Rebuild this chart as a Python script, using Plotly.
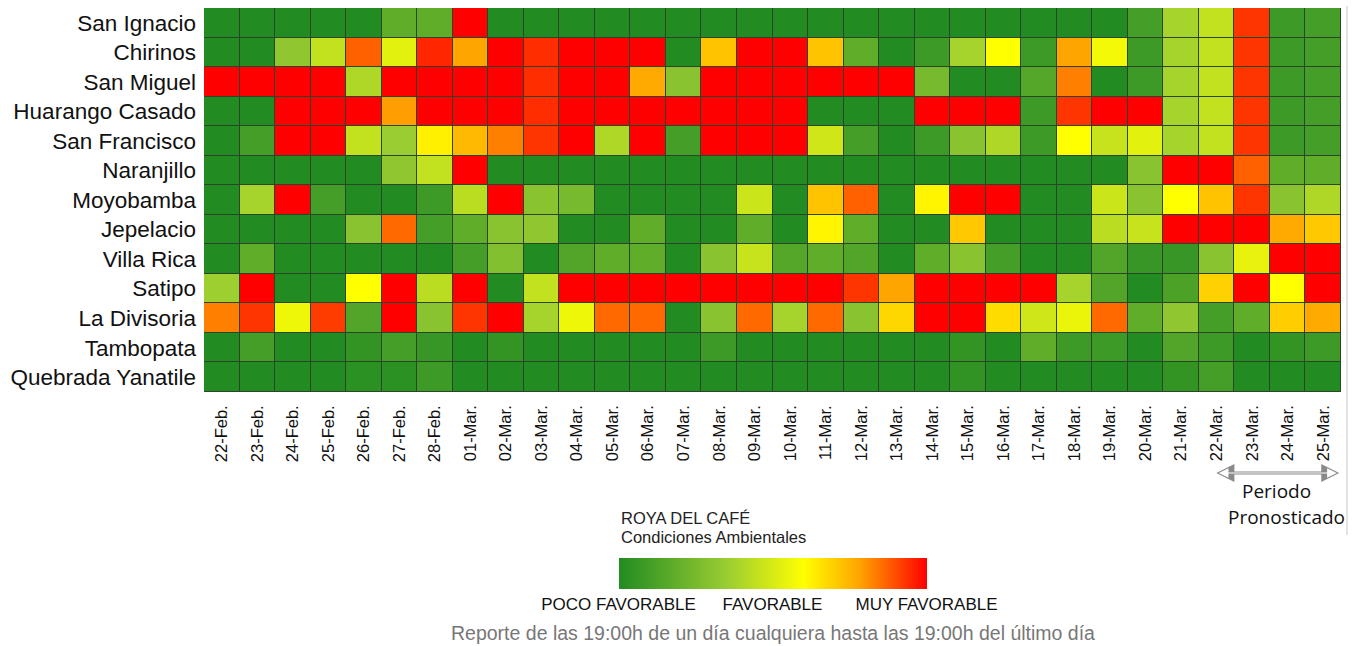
import plotly.graph_objects as go

stations = ["San Ignacio", "Chirinos", "San Miguel", "Huarango Casado", "San Francisco",
            "Naranjillo", "Moyobamba", "Jepelacio", "Villa Rica", "Satipo",
            "La Divisoria", "Tambopata", "Quebrada Yanatile"]

dates = ["22-Feb.", "23-Feb.", "24-Feb.", "25-Feb.", "26-Feb.", "27-Feb.", "28-Feb.",
         "01-Mar.", "02-Mar.", "03-Mar.", "04-Mar.", "05-Mar.", "06-Mar.", "07-Mar.",
         "08-Mar.", "09-Mar.", "10-Mar.", "11-Mar.", "12-Mar.", "13-Mar.", "14-Mar.",
         "15-Mar.", "16-Mar.", "17-Mar.", "18-Mar.", "19-Mar.", "20-Mar.", "21-Mar.",
         "22-Mar.", "23-Mar.", "24-Mar.", "25-Mar."]

san_ignacio = [0,0,0,0,0,18,18,100,0,0,0,0,0,0,0,0,0,0,0,0,0,0,0,0,0,0,10,38,45,93,8,10]
chirinos = [0,0,32,45,87,53,95,78,100,94,100,100,100,0,72,100,100,72,18,0,8,38,60,8,78,57,8,38,45,93,8,10]
san_miguel = [100,100,100,100,40,100,100,100,100,94,100,100,77,30,100,100,100,100,100,100,25,0,0,15,83,0,8,38,45,93,8,10]
huarango_casado = [0,0,100,100,100,79,100,100,100,94,100,100,100,100,100,100,100,0,0,0,100,100,100,8,93,100,100,38,45,93,8,10]
san_francisco = [0,10,100,100,45,35,63,74,83,93,100,40,100,10,100,100,100,48,10,0,8,30,40,8,60,46,53,38,45,93,8,10]
naranjillo = [0,0,0,0,0,32,45,100,0,0,0,0,0,0,0,0,0,0,0,0,0,0,0,0,0,0,30,100,100,87,18,18]
moyobamba = [0,38,100,10,0,0,8,43,100,30,25,0,0,0,0,47,0,72,87,0,62,100,100,0,0,47,30,60,72,93,30,40]
jepelacio = [0,0,0,0,30,86,10,18,30,32,0,0,18,0,0,18,0,62,18,0,0,71,0,0,0,43,46,100,100,100,77,71]
villa_rica = [0,18,0,0,0,0,0,10,28,0,14,18,18,0,30,46,15,18,14,0,18,30,10,0,0,14,6,6,30,54,100,100]
satipo = [36,100,0,0,60,100,43,100,0,45,100,100,100,100,100,100,100,100,93,78,100,100,100,100,38,14,0,12,69,100,60,100]
la_divisoria = [83,93,56,92,14,100,30,93,100,38,56,86,86,0,30,86,38,86,30,68,100,100,67,48,55,86,18,32,10,18,70,77]
tambopata = [0,10,0,0,5,10,6,0,5,0,0,0,0,0,8,0,0,0,0,0,0,5,0,18,8,8,0,14,8,0,5,8]
quebrada_yanatile = [0,0,0,0,3,3,8,0,0,0,0,0,0,0,0,0,0,0,0,0,0,4,0,0,0,0,0,5,10,0,0,0]

z = [san_ignacio, chirinos, san_miguel, huarango_casado, san_francisco, naranjillo,
     moyobamba, jepelacio, villa_rica, satipo, la_divisoria, tambopata, quebrada_yanatile]

legend_ticks = [0, 50, 100]
legend_labels = ["POCO FAVORABLE", "FAVORABLE", "MUY FAVORABLE"]

colorscale = [[0.0, "#228B22"], [0.35, "#9ACD32"], [0.6, "#FFFF00"],
              [0.78, "#FFA500"], [1.0, "#FF0000"]]

FONT = "Liberation Sans, Arial, sans-serif"
W, H = 1353, 646
ML, MR, MT, MB = 204, 12, 8, 254
PW, PH = W - ML - MR, H - MT - MB


def px_x(p):
    return (p - ML) / PW


def px_y(p):
    return (H - MB - p) / PH


fig = go.Figure(go.Heatmap(
    z=z, x=dates, y=stations, zmin=0, zmax=100,
    colorscale=colorscale, xgap=1, ygap=1,
    colorbar=dict(
        orientation="h", x=0.5, xanchor="center", y=px_y(582.5), yanchor="middle",
        lenmode="pixels", len=308, thickness=31, outlinewidth=0, xpad=0, ypad=0,
        tickvals=legend_ticks, ticktext=legend_labels, ticks="",
        tickfont=dict(family=FONT, size=17, color="#111"),
    ),
    hoverinfo="skip",
))

fig.update_layout(
    width=W, height=H,
    margin=dict(l=ML, r=MR, t=MT, b=MB, autoexpand=False),
    paper_bgcolor="white", plot_bgcolor="#2a4527",
    font=dict(family=FONT, color="#111"),
    xaxis=dict(tickangle=-90, tickfont=dict(size=16.5, color="#111"), showgrid=False,
               zeroline=False, ticks="", automargin=False, ticklabelstandoff=9,
               range=[-0.5, len(dates) - 0.5], autorange=False),
    yaxis=dict(autorange="reversed", tickfont=dict(size=22.5, color="#111"),
               showgrid=False, zeroline=False, ticks="", automargin=False,
               ticklabelstandoff=7),
    shapes=[
        dict(type="line", xref="paper", yref="paper", x0=px_x(1347), x1=px_x(1347),
             y0=px_y(6), y1=px_y(535), line=dict(color="#d0d0d0", width=1.2)),
    ],
    annotations=[
        dict(xref="paper", yref="paper", x=px_x(619), y=px_y(518),
             xanchor="left", yanchor="middle", showarrow=False,
             text="ROYA DEL CAFÉ", font=dict(family=FONT, size=16.5, color="#222")),
        dict(xref="paper", yref="paper", x=px_x(619), y=px_y(537),
             xanchor="left", yanchor="middle", showarrow=False,
             text="Condiciones Ambientales", font=dict(family=FONT, size=16.5, color="#222")),
        dict(xref="paper", yref="paper", x=0.5, y=px_y(633),
             xanchor="center", yanchor="middle", showarrow=False,
             text="Reporte de las 19:00h de un día cualquiera hasta las 19:00h del último día",
             font=dict(family=FONT, size=19.5, color="#777")),
        dict(xref="paper", yref="paper", x=px_x(1276), y=px_y(491),
             xanchor="center", yanchor="middle", showarrow=False,
             text="Periodo", font=dict(family="Open Sans, sans-serif", size=19, color="#111")),
        dict(xref="paper", yref="paper", x=px_x(1286), y=px_y(517),
             xanchor="center", yanchor="middle", showarrow=False,
             text="Pronosticado", font=dict(family="Open Sans, sans-serif", size=19, color="#111")),
        dict(xref="x", yref="paper", x=31.45, y=px_y(473),
             axref="x", ayref="pixel", ax=27.95, ay=0,
             showarrow=True, arrowside="end+start", arrowhead=2, arrowsize=1.2,
             arrowwidth=3, arrowcolor="#8a8a8a", text=""),
        dict(xref="x", yref="paper", x=31.38, y=px_y(473),
             axref="x", ayref="pixel", ax=28.02, ay=0,
             showarrow=True, arrowside="end+start", arrowhead=2, arrowsize=1.6,
             arrowwidth=1.2, arrowcolor="white", text=""),
    ],
)

fig.write_html("out.html", config={"displayModeBar": False},
               post_script="document.body.style.margin='0';document.body.style.overflow='hidden';")
